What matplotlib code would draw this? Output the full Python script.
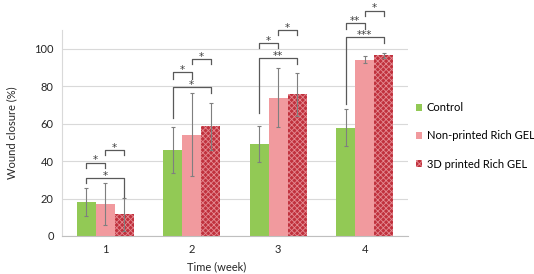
import numpy as np
import matplotlib
matplotlib.use("Agg")
import matplotlib.pyplot as plt

plt.rcParams["font.family"] = ["Lato", "DejaVu Sans"]
plt.rcParams["hatch.linewidth"] = 0.6

weeks = [1, 2, 3, 4]
series = ["Control", "Non-printed Rich GEL", "3D printed Rich GEL"]
control = [18.1, 45.7, 49.1, 57.8]
nonprinted = [16.9, 54.1, 73.9, 94.1]
printed3d = [11.7, 58.5, 75.6, 96.4]
control_err = [7.5, 12.3, 9.8, 9.9]
nonprinted_err = [11.2, 22.3, 15.9, 1.8]
printed3d_err = [8.8, 12.7, 11.4, 1.5]

# significance brackets: (week, bar_from, bar_to, height, label, leg_from, leg_to)
brackets = [
    (1, 0, 1, 39.2, "*", 36.5, 36.5),
    (1, 1, 2, 45.9, "*", 43.2, 43.2),
    (1, 0, 2, 31.0, "*", 28.3, 21.0),
    (2, 0, 1, 87.7, "*", 84.0, 84.0),
    (2, 1, 2, 94.4, "*", 92.0, 92.0),
    (2, 0, 2, 79.7, "*", 62.8, 76.5),
    (3, 0, 1, 103.2, "*", 100.5, 100.5),
    (3, 1, 2, 110.1, "*", 107.4, 107.4),
    (3, 0, 2, 95.2, "**", 65.6, 92.0),
    (4, 0, 1, 113.7, "**", 110.7, 110.7),
    (4, 1, 2, 120.4, "*", 117.6, 117.6),
    (4, 0, 2, 106.0, "***", 70.6, 103.2),
]

colors = ["#92c955", "#f19a9e", "#c0313d"]
width = 0.22

fig = plt.figure(figsize=(5.34, 2.74), dpi=100)
ax = fig.add_axes([62 / 534, 1 - 236 / 274, 346 / 534, 206 / 274])

x = np.array(weeks, dtype=float)
offsets = [-width, 0, width]
vals = [control, nonprinted, printed3d]
errs = [control_err, nonprinted_err, printed3d_err]
for i in range(3):
    kw = dict(color=colors[i], linewidth=0)
    if i == 2:
        kw = dict(facecolor=colors[i], edgecolor="#e48a92", hatch="xxxxxx", linewidth=0)
    ax.bar(x + offsets[i], vals[i], width, label=series[i], zorder=2, **kw)
    ax.errorbar(x + offsets[i], vals[i], yerr=errs[i], fmt="none", ecolor="#7f7f7f",
                elinewidth=0.8, capsize=1.5, capthick=0.8, zorder=3)

for wk, a, b, h, lab, la, lb in brackets:
    xa = wk + offsets[a]
    xb = wk + offsets[b]
    ax.plot([xa, xa, xb, xb], [la, h, h, lb], color="#595959", lw=0.9,
            clip_on=False, zorder=4)
    ax.text((xa + xb) / 2, h - 1.5, lab, ha="center", va="bottom", fontsize=7.5,
            family="DejaVu Sans", color="#404040", clip_on=False)

ax.set_xlim(0.5, 4.5)
ax.set_ylim(0, 110)
ax.set_yticks([0, 20, 40, 60, 80, 100])
ax.set_xticks(weeks)
ax.grid(axis="y", color="#d9d9d9", linewidth=0.8, zorder=0)
ax.set_axisbelow(True)
for s in ["top", "right"]:
    ax.spines[s].set_visible(False)
ax.spines["left"].set_color("#d9d9d9")
ax.spines["bottom"].set_color("#bfbfbf")
ax.tick_params(length=0, labelsize=8, colors="#262626", pad=6)

ax.set_ylabel("Wound closure (%)", fontsize=8, color="#262626")
ax.yaxis.set_label_coords(-0.128, 0.5)
ax.set_xlabel("Time (week)", fontsize=8, color="#262626")
ax.xaxis.set_label_coords((217 - 62) / 346, -0.125)

leg = ax.legend(loc="center left", bbox_to_anchor=(1.0, 0.486), frameon=False,
                fontsize=8, handlelength=0.6, handleheight=0.6,
                handletextpad=0.4, labelspacing=1.55, borderaxespad=0.3)

fig.savefig("out.png", dpi=100)
